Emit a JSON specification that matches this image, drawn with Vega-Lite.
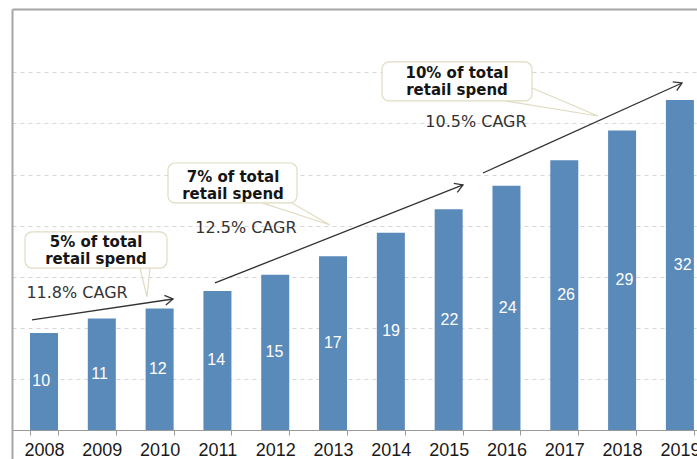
{
  "$schema": "https://vega.github.io/schema/vega-lite/v6.json",
  "width": 685,
  "height": 450,
  "autosize": {"type": "none"},
  "padding": {"left": 12, "top": 9, "right": 0, "bottom": 0},
  "background": "white",
  "config": {"view": {"stroke": null}},
  "datasets": {
    "bars": [
      {"year": 2008, "value": 9.5, "label": "10"},
      {"year": 2009, "value": 10.9, "label": "11"},
      {"year": 2010, "value": 11.9, "label": "12"},
      {"year": 2011, "value": 13.6, "label": "14"},
      {"year": 2012, "value": 15.2, "label": "15"},
      {"year": 2013, "value": 17.0, "label": "17"},
      {"year": 2014, "value": 19.3, "label": "19"},
      {"year": 2015, "value": 21.6, "label": "22"},
      {"year": 2016, "value": 23.9, "label": "24"},
      {"year": 2017, "value": 26.4, "label": "26"},
      {"year": 2018, "value": 29.3, "label": "29"},
      {"year": 2019, "value": 32.3, "label": "32"}
    ],
    "arrows": [
      {"id": 1, "x0": 2007.792, "y0": 10.77, "x1": 2010.232, "y1": 12.82},
      {"id": 2, "x0": 2010.958, "y0": 14.39, "x1": 2015.248, "y1": 23.98},
      {"id": 3, "x0": 2015.594, "y0": 25.15, "x1": 2019.037, "y1": 33.96}
    ],
    "tails": [
      {"id": 1, "ord": 1, "x": 2009.661, "y": 15.85},
      {"id": 1, "ord": 2, "x": 2009.782, "y": 13.02},
      {"id": 1, "ord": 3, "x": 2009.834, "y": 15.85},
      {"id": 2, "ord": 1, "x": 2011.771, "y": 22.22},
      {"id": 2, "ord": 2, "x": 2012.948, "y": 20.06},
      {"id": 2, "ord": 3, "x": 2012.29, "y": 22.22},
      {"id": 3, "ord": 1, "x": 2015.975, "y": 32.2},
      {"id": 3, "ord": 2, "x": 2017.584, "y": 30.73},
      {"id": 3, "ord": 3, "x": 2016.442, "y": 33.47}
    ],
    "boxes": [
      {"x0": 2007.671, "x1": 2010.128, "y0": 15.85, "y1": 19.38, "tx": 2008.9, "ty": 18.4, "text": "5% of total\nretail spend"},
      {"x0": 2010.145, "x1": 2012.377, "y0": 22.22, "y1": 26.13, "tx": 2011.27, "ty": 24.8, "text": "7% of total\nretail spend"},
      {"x0": 2013.847, "x1": 2016.442, "y0": 32.2, "y1": 36.02, "tx": 2015.145, "ty": 34.94, "text": "10% of total\nretail spend"}
    ],
    "cagr": [
      {"x": 2008.571, "y": 13.41, "text": "11.8% CAGR"},
      {"x": 2011.494, "y": 19.77, "text": "12.5% CAGR"},
      {"x": 2015.473, "y": 30.14, "text": "10.5% CAGR"}
    ]
  },
  "layer": [
    {
      "data": {"name": "bars"},
      "mark": {"type": "bar", "color": "#5a8ab9"},
      "encoding": {
        "x": {
          "field": "year", "type": "ordinal",
          "scale": {"range": [0, 699.9], "paddingInner": 0.5156, "paddingOuter": 0.3114},
          "axis": {"orient": "bottom", "offset": -29, "title": null, "domainColor": "#9a9a9a", "domainWidth": 1, "tickColor": "#9a9a9a", "tickSize": 5, "tickBand": "extent", "labelFont": "Liberation Sans", "labelFontSize": 18, "labelColor": "#1a1a1a", "labelPadding": 6, "labelAngle": 0, "labelOverlap": false, "grid": false}
        },
        "y": {
          "field": "value", "type": "quantitative",
          "scale": {"domain": [-2.84, 41.2], "nice": false, "zero": false},
          "axis": {"orient": "left", "values": [5, 10, 15, 20, 25, 30, 35], "labels": false, "ticks": false, "title": null, "domain": true, "domainColor": "#a6a6a6", "domainWidth": 2, "grid": true, "gridColor": "#d6d6d6", "gridDash": [4, 4], "gridWidth": 1}
        }
      }
    },
    {
      "data": {"name": "bars"},
      "mark": {"type": "text", "color": "white", "font": "Liberation Sans", "fontSize": 16, "baseline": "middle", "align": "center"},
      "encoding": {
        "x": {"field": "year", "type": "ordinal", "scale": {"range": [0, 699.9], "paddingInner": 0.5156, "paddingOuter": 0.3114}, "axis": null},
        "y": {"field": "value", "type": "quantitative", "scale": {"domain": [-5.68, 82.4], "nice": false, "zero": false}, "axis": null},
        "text": {"field": "label"}
      }
    },
    {
      "data": {"name": "tails"},
      "mark": {"type": "line", "stroke": "#e0dcc2", "strokeWidth": 1.2},
      "encoding": {
        "x": {"field": "x", "type": "quantitative", "scale": {"domain": [2007.4464, 2019.2964], "nice": false, "zero": false}, "axis": {"orient": "top", "labels": false, "ticks": false, "grid": false, "title": null, "domain": true, "domainColor": "#a6a6a6", "domainWidth": 2}},
        "y": {"field": "y", "type": "quantitative", "scale": {"domain": [-2.84, 41.2], "nice": false, "zero": false}, "axis": null},
        "detail": {"field": "id"},
        "order": {"field": "ord"}
      }
    },
    {
      "data": {"name": "boxes"},
      "mark": {"type": "rect", "fill": "white", "stroke": "#e0dcc2", "strokeWidth": 1.2, "cornerRadius": 7},
      "encoding": {
        "x": {"field": "x0", "type": "quantitative", "scale": {"domain": [2007.4464, 2019.2964], "nice": false, "zero": false}, "axis": null},
        "x2": {"field": "x1"},
        "y": {"field": "y0", "type": "quantitative", "scale": {"domain": [-2.84, 41.2], "nice": false, "zero": false}, "axis": null},
        "y2": {"field": "y1"}
      }
    },
    {
      "data": {"name": "boxes"},
      "mark": {"type": "text", "font": "DejaVu Sans", "fontWeight": "bold", "fontSize": 15, "color": "#151515", "lineBreak": "\n", "lineHeight": 17, "align": "center", "baseline": "middle"},
      "encoding": {
        "x": {"field": "tx", "type": "quantitative", "scale": {"domain": [2007.4464, 2019.2964], "nice": false, "zero": false}, "axis": null},
        "y": {"field": "ty", "type": "quantitative", "scale": {"domain": [-2.84, 41.2], "nice": false, "zero": false}, "axis": null},
        "text": {"field": "text"}
      }
    },
    {
      "data": {"name": "cagr"},
      "mark": {"type": "text", "font": "DejaVu Sans", "fontSize": 16, "color": "#333333", "align": "center", "baseline": "middle"},
      "encoding": {
        "x": {"field": "x", "type": "quantitative", "scale": {"domain": [2007.4464, 2019.2964], "nice": false, "zero": false}, "axis": null},
        "y": {"field": "y", "type": "quantitative", "scale": {"domain": [-2.84, 41.2], "nice": false, "zero": false}, "axis": null},
        "text": {"field": "text"}
      }
    },
    {
      "data": {"name": "arrows"},
      "mark": {"type": "rule", "stroke": "#333333", "strokeWidth": 1.3},
      "encoding": {
        "x": {"field": "x0", "type": "quantitative", "scale": {"domain": [2007.4464, 2019.2964], "nice": false, "zero": false}, "axis": null},
        "x2": {"field": "x1"},
        "y": {"field": "y0", "type": "quantitative", "scale": {"domain": [-2.84, 41.2], "nice": false, "zero": false}, "axis": null},
        "y2": {"field": "y1"}
      }
    },
    {
      "data": {"name": "arrows"},
      "transform": [{"filter": "datum.id == 1"}],
      "mark": {"type": "point", "shape": "M-1,-0.6L0,0L-1,0.6", "filled": false, "stroke": "#333333", "strokeWidth": 1.3, "size": 256, "opacity": 1, "angle": 351.5},
      "encoding": {
        "x": {"field": "x1", "type": "quantitative", "scale": {"domain": [2007.4464, 2019.2964], "nice": false, "zero": false}, "axis": null},
        "y": {"field": "y1", "type": "quantitative", "scale": {"domain": [-2.84, 41.2], "nice": false, "zero": false}, "axis": null}
      }
    },
    {
      "data": {"name": "arrows"},
      "transform": [{"filter": "datum.id == 2"}],
      "mark": {"type": "point", "shape": "M-1,-0.6L0,0L-1,0.6", "filled": false, "stroke": "#333333", "strokeWidth": 1.3, "size": 256, "opacity": 1, "angle": 338.4},
      "encoding": {
        "x": {"field": "x1", "type": "quantitative", "scale": {"domain": [2007.4464, 2019.2964], "nice": false, "zero": false}, "axis": null},
        "y": {"field": "y1", "type": "quantitative", "scale": {"domain": [-2.84, 41.2], "nice": false, "zero": false}, "axis": null}
      }
    },
    {
      "data": {"name": "arrows"},
      "transform": [{"filter": "datum.id == 3"}],
      "mark": {"type": "point", "shape": "M-1,-0.6L0,0L-1,0.6", "filled": false, "stroke": "#333333", "strokeWidth": 1.3, "size": 256, "opacity": 1, "angle": 335.7},
      "encoding": {
        "x": {"field": "x1", "type": "quantitative", "scale": {"domain": [2007.4464, 2019.2964], "nice": false, "zero": false}, "axis": null},
        "y": {"field": "y1", "type": "quantitative", "scale": {"domain": [-2.84, 41.2], "nice": false, "zero": false}, "axis": null}
      }
    }
  ],
  "resolve": {"scale": {"x": "independent", "y": "independent"}}
}
